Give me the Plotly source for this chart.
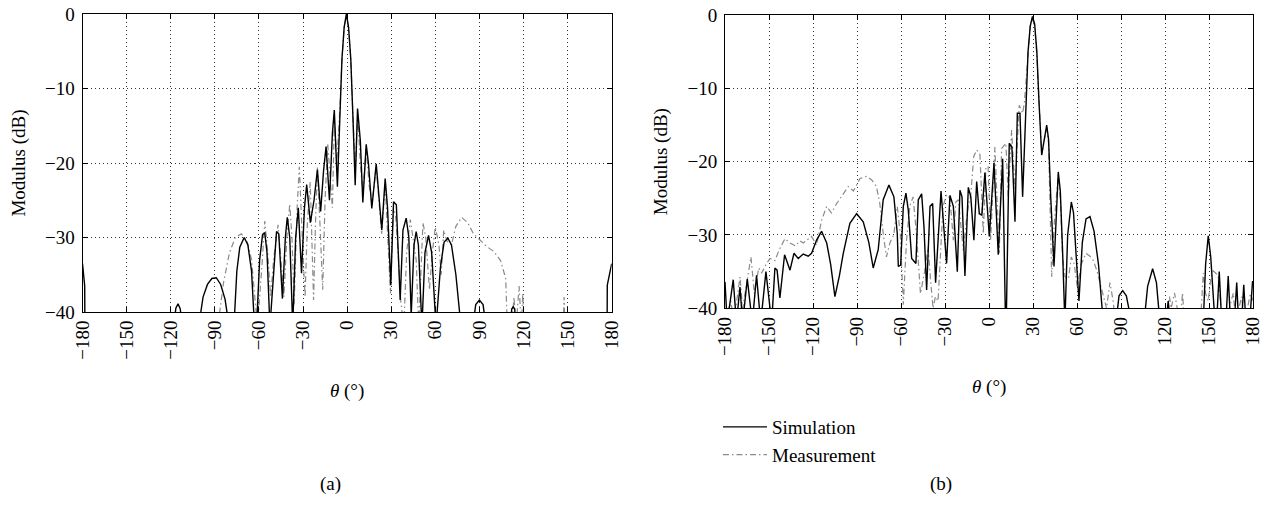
import plotly.graph_objects as go

# ---------------- data (values below -40 dB are clipped by the axis) ----------------
theta_ticks = [-180, -150, -120, -90, -60, -30, 0, 30, 60, 90, 120, 150, 180]
theta_ticktext = ["\u2212180", "\u2212150", "\u2212120", "\u221290", "\u221260", "\u221230",
                  "0", "30", "60", "90", "120", "150", "180"]
db_ticks = [0, -10, -20, -30, -40]
db_ticktext = ["0", "\u221210", "\u221220", "\u221230", "\u221240"]

# Panel (a) - Simulation
a_sim_theta = [-180, -178.5, -178.3,
               -118, -116.5, -115, -113.5, -112,
               -101, -98, -95, -92, -89, -86, -83, -81,
               -77, -75, -73, -70, -67.5, -65, -63,
               -61.6, -59.5, -57.5, -56, -54.5, -52.5,
               -50, -48, -46.5, -44, -42, -40.7, -39, -37, -35, -33.2, -31, -29, -27.5, -25,
               -22.5, -20.2, -18, -16, -14.3, -12, -10, -8.7, -6.6,
               -5, -3.5, -2, -0.5, 1, 2.5, 4, 5.5,
               7.1, 9, 10.7, 13, 14.5, 16.8, 19.8, 21.5, 23.6, 25.9, 27.5, 29.7, 31.6, 33.5,
               36.1, 38, 40.2, 42, 43.6, 45.5, 47, 48.5, 50.9, 53, 55.4, 57.5, 60.5,
               63.5, 66, 68.6, 71, 74, 77.5,
               85.5, 87.5, 90, 92.5, 94.5,
               111, 112, 113, 114, 115,
               176.8, 177, 180]
a_sim_db = [-33.5, -36.5, -45,
            -42, -39.5, -38.9, -39.6, -42,
            -42, -38, -36.3, -35.5, -35.4, -36.3, -38.3, -41,
            -42, -34.5, -31.3, -30, -31, -34.5, -42,
            -42, -33, -29.6, -29.4, -32, -42,
            -34, -29.2, -29.5, -38.2, -30, -27.3, -30, -42, -30, -26, -34.8, -26, -22.9, -28,
            -25, -20.9, -26.5, -21, -17.8, -25, -16, -12.9, -23.2,
            -14, -6, -1.8, 0, -1.8, -6, -14, -23,
            -12.7, -17, -25.3, -17.5, -20, -26.1, -20.1, -24, -29, -22.1, -26, -36.4, -25.2, -25.6,
            -38.4, -29, -27.4, -30, -40.5, -31, -29.2, -31, -42, -32, -29.7, -32, -42,
            -34, -30.6, -30.1, -31, -35, -42,
            -42, -39, -38.4, -39, -42,
            -42, -39.6, -39.3, -39.6, -42,
            -45, -36.4, -33.5]

# Panel (a) - Measurement
a_meas_theta = [-88, -84, -80, -76, -72, -68, -65, -63, -61, -58, -56, -54, -52, -50, -47, -45,
                -43, -41, -39, -37.5, -36, -34, -32.5, -30.5, -28.6, -27, -25.1, -24, -22.8,
                -21.5, -20.2, -18.5, -16.6, -15, -13.2, -11.5, -10, -8.6, -7, -5, -3.5, -2,
                -0.5, 1, 2.5, 4, 5.5, 7.2, 9, 10.7, 13, 15, 17, 19.8, 21.5, 23.5, 25.9, 27.5,
                29.5, 31.5, 33, 35, 36.5, 38.6, 40.5, 43, 45, 47, 48.7, 50, 51.6, 53.5, 56,
                58, 60, 62.5, 64, 65.7, 68, 71, 74, 77.9, 82, 86, 90.8, 95, 99.9, 104.4,
                107.9, 109, 112, 113.5, 115, 117, 118.5, 119.5, 120.5,
                147, 147.6, 148.2]
a_meas_db = [-42, -36, -32, -30, -29.5, -30.5, -33, -38, -42, -34, -27.8, -32, -38, -33, -28.3, -33,
             -38, -30, -25.5, -30, -39, -26, -20.5, -30, -38, -28, -22.5, -30, -38.4,
             -28, -20.6, -28, -37, -25, -17.4, -22, -26, -14, -20, -13, -6, -1.8,
             -0.3, -1.8, -6, -14, -21, -13.5, -20, -24, -18, -23, -25.5, -20.5, -25, -29.5, -22.8, -30,
             -37.5, -26, -27, -33, -38.5, -42, -32, -27.6, -30, -33, -42, -35, -28, -30, -37,
             -32, -28.6, -31, -35, -29, -30.5, -31, -28.5, -27.3, -28, -29.5, -30.4, -31.2, -31.9, -33.1,
             -35.5, -42, -42, -38, -42, -36.5, -42, -37.5, -42,
             -42, -38, -42]

# Panel (b) - Simulation
b_sim_theta = [-180, -178.5, -174.4, -172.2, -169.8, -168, -164.8, -161.4, -158.5, -155.7, -152.1,
               -148.2, -146, -144.5, -142.6, -139.4, -135.7, -133, -130.1, -126.7, -123.3, -121,
               -117.6, -114.2, -110.7, -108, -105.1, -102, -99.4, -94.9, -90.3, -85.8, -82, -79,
               -75.6, -72.2, -68.3, -64.9, -62.6, -61.9, -60.3, -58.5, -56.7, -55.1, -52.8, -49.9,
               -48.3, -46, -44.4, -42.6, -40.3, -38.5, -36.5, -32.8, -29, -26.7, -24.4, -21.7,
               -19.9, -18.5, -16.5, -14.2, -12.5, -10.4, -8.5, -6.7, -5, -2.9, 0.1, 3.3, 6.2,
               9.2, 11.4, 13.7, 15.5, 17.6, 19.2, 21, 22.8, 25, 26.5, 28, 29.5, 31, 32.5, 34,
               35.8, 39.2, 40.5, 42, 44.2, 47.1, 48.5, 50, 51.6, 53.5, 56, 57.5, 59, 61.2, 63.5,
               66, 68.7, 71.5, 74.5, 77.8,
               86.4, 88.5, 91, 93.5, 97.1,
               105.5, 108, 111.4, 114, 116.4,
               120.5, 122, 123.5,
               145.9, 147.5, 149.3, 151, 153.9, 155, 156.8, 158.5, 161.3, 162.9, 164.5, 167, 168.7,
               170, 172, 173.5, 175, 177.5, 179.5, 180]
b_sim_db = [-36.4, -42, -36.1, -42, -37.1, -42, -36, -42, -35.5, -42, -35,
            -42, -34.5, -34.8, -38.6, -32.7, -34.8, -32.5, -33.2, -32.6, -32.9, -32.5,
            -30.7, -29.5, -31.1, -34, -38.4, -35.5, -32.5, -28.4, -27.1, -28.2, -31, -34.5,
            -32, -25.2, -23.2, -24.8, -29.8, -34.3, -34.1, -26.1, -24.3, -26.6, -33.2, -33.9,
            -25.2, -24.4, -28.9, -37.5, -26.1, -25.7, -36.5, -24, -33.9, -24.6, -26.1, -35,
            -23.9, -24.8, -35.6, -23.5, -24.8, -30.7, -22.7, -27.1, -27.3, -21.5, -30.2, -20.2, -32.7,
            -19.6, -45, -17.5, -18, -28.2, -13.4, -13.4, -24.8, -11.6, -5, -1.5, -0.2, -1.2, -5, -12,
            -19.1, -15, -17, -25, -34.3, -21.4, -24, -32, -42, -30, -25.5, -27, -32, -39, -31,
            -27.8, -27.5, -29.5, -34, -42,
            -42, -38.3, -37.6, -38.3, -42,
            -42, -37, -34.6, -36.5, -42,
            -42, -39, -42,
            -42, -34, -30.1, -33, -42, -42, -35, -42, -42, -35.6, -42, -42, -36.5,
            -42, -42, -36.8, -42, -42, -36.3, -37]

# Panel (b) - Measurement
b_meas_theta = [-180, -176, -174, -171, -169.8, -168, -165, -162.3, -160, -157, -155, -152, -149.4,
                -146, -143, -139.1, -135.7, -132, -129, -126.7, -123, -121, -117.6, -114.2,
                -110.7, -107.5, -103.9, -99.4, -96, -92.5, -88, -83.5, -80, -76.8, -74.5, -72.2,
                -70, -67.5, -65, -62.6, -60.5, -58.5, -56.3, -54, -51.8, -49.5, -46.8, -44,
                -41.6, -40, -38.2, -36.6, -34.8, -33, -31.4, -29, -26.7, -24.4, -22.7, -21,
                -19.3, -17.6, -15.5, -14.2, -12.5, -10.5, -8.5, -6.3, -5, -4, -2.2, -0.7, 1, 3.9,
                6.9, 8.5, 11.4, 13, 15.3, 17.6, 20.5, 22.8, 24, 26.5, 28, 29.5, 31, 32.5, 34,
                35.8, 39.2, 40.5, 42.6, 44.5, 47.1, 48.5, 50, 51.7, 54, 56, 58, 60, 63, 66, 68.7,
                71, 73.3, 76.7, 80, 82.3, 84.5, 86,
                120, 122.9, 124, 126.3, 128, 130, 131.8, 133,
                144, 145.9, 147.5, 149.3, 151, 152.7, 156, 158, 161, 166.4, 168, 172, 174, 178, 180]
b_meas_db = [-42, -39, -42, -37, -35.7, -40, -36, -33, -38, -34.5, -35.2, -34, -33.2,
             -33.5, -32, -30.5, -31.1, -31.5, -30.8, -31.1, -30.5, -30.2, -31.4, -28,
             -26.1, -27, -25.7, -24.3, -23.4, -24, -22.3, -22, -22.5, -23.4, -25.7, -29.8,
             -33, -31, -30, -26.1, -30, -39.5, -30.7, -26, -24.8, -30, -38, -35,
             -31.6, -36, -40, -38.4, -39, -32, -26.1, -24.5, -25, -30.7, -25.5, -25.2,
             -29, -32.1, -28, -26.1, -24.5, -19.3, -18.4, -19, -25, -29.8, -20.7, -20.7, -30.7, -18,
             -32.5, -18.2, -17.5, -24.8, -15.7, -23.9, -12.3, -13.4, -12, -5, -1.5, -0.5, -1.5, -5.5, -12.5,
             -19, -15.3, -17.5, -35.7, -28, -21.8, -25, -33, -35.7, -36, -33, -34, -37, -33.9, -32.5, -32.9,
             -33.5, -34.8, -37.5, -40, -36.5, -39, -42,
             -42, -38.4, -40, -37.9, -40, -42, -37.9, -42,
             -42, -35.2, -38, -39, -36, -34.9, -35.5, -40, -42, -37.9, -42, -38.4, -42, -38, -39]

# ---------------- figure ----------------
FONT = "Liberation Serif"
FS = 19
SIM_STYLE = dict(color="black", width=1.4)
MEAS_STYLE = dict(color="#8a8a8a", width=1.2, dash="6px,3px,1.5px,3px")

fig = go.Figure()
fig.add_trace(go.Scatter(x=a_meas_theta, y=a_meas_db, mode="lines", line=MEAS_STYLE,
                         name="Measurement", showlegend=False, xaxis="x", yaxis="y"))
fig.add_trace(go.Scatter(x=a_sim_theta, y=a_sim_db, mode="lines", line=SIM_STYLE,
                         name="Simulation", showlegend=False, xaxis="x", yaxis="y"))
fig.add_trace(go.Scatter(x=b_meas_theta, y=b_meas_db, mode="lines", line=MEAS_STYLE,
                         name="Measurement", legendrank=2, xaxis="x2", yaxis="y2"))
fig.add_trace(go.Scatter(x=b_sim_theta, y=b_sim_db, mode="lines", line=SIM_STYLE,
                         name="Simulation", legendrank=1, xaxis="x2", yaxis="y2"))

tfont = dict(family=FONT, size=FS, color="black")
xcommon = dict(range=[-180, 180], tickvals=theta_ticks, ticktext=theta_ticktext, tickangle=-90,
               showline=True, linecolor="black", linewidth=1, mirror="ticks", ticks="inside",
               ticklen=5, tickcolor="black", showgrid=True, gridcolor="#333", gridwidth=1,
               griddash="1px,3px", zeroline=False, tickfont=tfont, automargin=False,
               ticklabeloverflow="allow",
               title=dict(text="<i>θ</i> (°)", font=tfont, standoff=24))
ycommon = dict(range=[-40, 0], tickvals=db_ticks, ticktext=db_ticktext,
               showline=True, linecolor="black", linewidth=1, mirror="ticks", ticks="inside",
               ticklen=5, tickcolor="black", showgrid=True, gridcolor="#333", gridwidth=1,
               griddash="1px,3px", zeroline=False, tickfont=tfont, automargin=False,
               ticklabelstandoff=3, ticklabeloverflow="allow",
               title=dict(text="Modulus (dB)", font=tfont, standoff=14))

# positions below are page pixels (the page body margin is removed by post_script)
W, H = 1271, 510
fig.update_layout(
    width=W, height=H, margin=dict(l=0, r=0, t=0, b=0),
    paper_bgcolor="white", plot_bgcolor="white",
    font=dict(family=FONT, size=FS, color="black"),
    xaxis=dict(domain=[82.5 / W, 611.7 / W], anchor="y", **xcommon),
    yaxis=dict(domain=[1 - 312 / H, 1 - 14 / H], anchor="x", **ycommon),
    xaxis2=dict(domain=[725 / W, 1253.3 / W], anchor="y2", **xcommon),
    yaxis2=dict(domain=[1 - 308.3 / H, 1 - 15 / H], anchor="x2", **ycommon),
    showlegend=True,
    legend=dict(x=718 / W, y=1 - 408 / H, xanchor="left", yanchor="top",
                font=tfont, bgcolor="rgba(0,0,0,0)", itemwidth=44, tracegroupgap=0),
    annotations=[
        dict(text="(a)", x=318 / W, y=1 - 497 / H, xref="paper", yref="paper", showarrow=False,
             font=tfont),
        dict(text="(b)", x=954 / W, y=1 - 497 / H, xref="paper", yref="paper", showarrow=False,
             font=tfont),
    ],
)

fig.write_html("out.html", config={"displayModeBar": False},
               post_script="document.body.style.margin='0';document.body.style.overflow='hidden';")
